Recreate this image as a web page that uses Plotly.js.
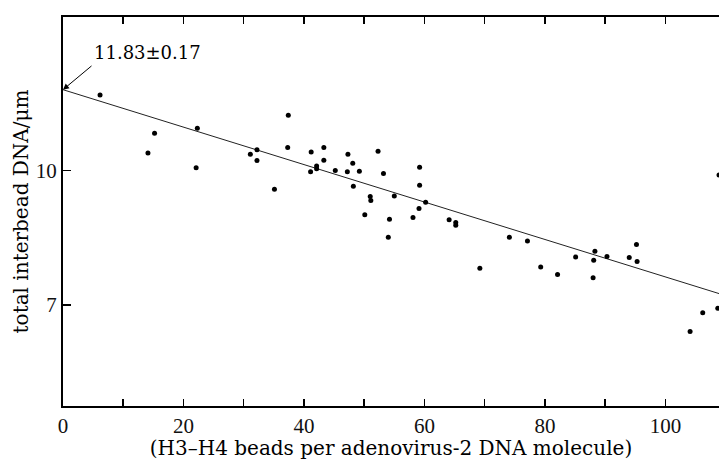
<!DOCTYPE html>
<html>
<head>
<meta charset="utf-8">
<script src="https://cdn.plot.ly/plotly-3.0.1.min.js"></script>
<style>html,body{margin:0;padding:0;background:#fff;}#chart{width:719px;height:460px;}</style>
</head>
<body>
<div id="chart"></div>
<script>
// H3-H4 beads per adenovirus-2 DNA molecule
const beads = [6.15, 15.2, 14.1, 22.3, 22.1, 31.1, 32.2, 32.2, 37.4, 37.3, 35.1, 41.2, 43.3, 43.3, 42.1, 42.1, 41.1, 45.2, 47.3, 48.1, 47.2, 49.2, 48.2, 52.3, 53.2, 51.0, 51.1, 50.1, 55.0, 54.2, 54.0, 59.2, 59.2, 60.2, 59.1, 58.1, 64.1, 65.2, 65.2, 69.2, 74.1, 77.1, 79.3, 82.1, 85.1, 88.3, 88.1, 88.0, 90.3, 94.0, 95.2, 95.3, 104.1, 106.2, 108.7, 108.9];
// total interbead DNA (µm)
const interbead = [11.68, 10.83, 10.39, 10.94, 10.06, 10.36, 10.46, 10.22, 11.23, 10.51, 9.58, 10.41, 10.51, 10.23, 10.10, 10.04, 9.97, 10.00, 10.36, 10.16, 9.97, 9.98, 9.65, 10.43, 9.93, 9.42, 9.33, 9.01, 9.43, 8.91, 8.51, 10.07, 9.67, 9.29, 9.15, 8.95, 8.90, 8.84, 8.78, 7.82, 8.51, 8.43, 7.85, 7.68, 8.07, 8.20, 8.00, 7.61, 8.08, 8.06, 8.35, 7.97, 6.41, 6.83, 6.93, 9.90];
// fitted line
const fitX = [0, 110];
const fitY = [11.80, 7.21];
// ticks
const xTickVals = [0, 10, 20, 30, 40, 50, 60, 70, 80, 90, 100];
const xTickText = ['0', '', '20', '', '40', '', '60', '', '80', '', '100'];
const yTickVals = [7, 10];
const yTickText = ['7', '10'];
const interceptLabel = '11.83\u00B10.17';

const serif = 'DejaVu Serif, Liberation Serif, serif';
const tickFont = {family: 'Liberation Serif, serif', size: 21, color: '#111'};

const traces = [
  {x: fitX, y: fitY, type: 'scatter', mode: 'lines', line: {color: '#222', width: 1}, hoverinfo: 'skip', showlegend: false},
  {x: beads, y: interbead, type: 'scatter', mode: 'markers', marker: {color: '#000', size: 5}, showlegend: false}
];

const layout = {
  width: 719, height: 460,
  margin: {l: 63, r: 0, t: 17, b: 54},
  paper_bgcolor: '#fff', plot_bgcolor: '#fff',
  showlegend: false,
  xaxis: {
    range: [0, 108.9], tickvals: xTickVals, ticktext: xTickText,
    ticks: 'inside', ticklen: 7, tickwidth: 1.5, tickcolor: '#000',
    showline: true, linewidth: 2, linecolor: '#000', mirror: 'ticks',
    showgrid: false, zeroline: false, tickfont: tickFont,
    title: {text: '(H3\u2013H4 beads per adenovirus-2 DNA molecule)', font: {family: serif, size: 20, color: '#000'}}
  },
  yaxis: {
    range: [4.75, 13.42], tickvals: yTickVals, ticktext: yTickText,
    ticks: 'inside', ticklen: 8, tickwidth: 1.5, tickcolor: '#000',
    showline: true, linewidth: 2, linecolor: '#000',
    showgrid: false, zeroline: false, tickfont: tickFont,
    automargin: true,
    title: {text: 'total interbead DNA/\u03BCm', standoff: 2, font: {family: serif, size: 20, color: '#000'}}
  },
  annotations: [
    {x: 0, y: fitY[0], xref: 'x', yref: 'y', text: '', showarrow: true, ax: 30, ay: -25,
     arrowhead: 2, arrowsize: 1.2, arrowwidth: 1, arrowcolor: '#000', standoff: 0, startstandoff: 0},
    {x: 14.0, y: 12.63, xref: 'x', yref: 'y', text: interceptLabel, showarrow: false,
     font: {family: serif, size: 18, color: '#000'}, xanchor: 'center', yanchor: 'middle'}
  ]
};

Plotly.newPlot('chart', traces, layout, {displayModeBar: false, staticPlot: true});
</script>
</body>
</html>
